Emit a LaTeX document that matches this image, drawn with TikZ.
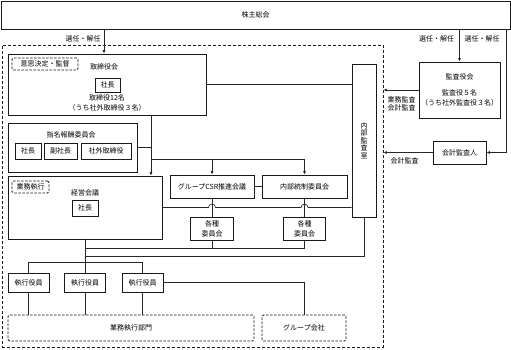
\documentclass[tikz,border=0pt]{standalone}
\usepackage{fontspec}
\setmainfont{Noto Sans CJK JP}
\usetikzlibrary{arrows.meta,positioning}

\begin{document}
\begin{tikzpicture}[
        x=1pt, y=-1pt,
        font=\fontsize{7}{10}\selectfont,
        >={Latex[length=3.5pt,width=3pt]},
        % 箱のスタイル
        box/.style={rectangle, draw=black!90, line width=0.75pt, fill=white, inner sep=0pt, align=center},
        tagbox/.style={rectangle, draw=black!90, line width=0.75pt, dash pattern=on 2.5pt off 1.5pt, rounded corners=1.5pt, fill=white, inner sep=0pt, align=center},
        areabox/.style={rectangle, draw=black!90, line width=0.8pt, dash pattern=on 3pt off 2pt, inner sep=0pt},
        conn/.style={draw=black!85, line width=0.65pt},
        txt/.style={inner sep=0pt, align=center}
    ]
        \useasboundingbox (0,0) rectangle (511,350);

        % 外枠
        \node[areabox, minimum width=381pt, minimum height=302pt] (kaisha) at (192.5,196) {};

        % 上部
        \node[box, minimum width=509pt, minimum height=28pt] (kabunushi) at (255.5,15) {株主総会};

        % 取締役会
        \node[box, minimum width=198pt, minimum height=61pt] (torishimari) at (107,84.5) {};
        \node[tagbox, minimum width=66pt, minimum height=12pt] (tag1) at (45,64) {意思決定・監督};
        \node[txt] (torititle) at (104,67) {取締役会};
        \node[box, minimum width=25pt, minimum height=14pt] (shacho1) at (107.5,85) {社長};
        \node[txt] (torimember) at (107,103) {取締役12名\\（うち社外取締役３名）};

        % 指名報酬委員会
        \node[box, minimum width=129pt, minimum height=49pt] (shimei) at (72.5,147.5) {};
        \node[txt] (shimeititle) at (71,135) {指名報酬委員会};
        \node[box, minimum width=26pt, minimum height=16pt] (shacho2) at (28,151) {社長};
        \node[box, minimum width=33pt, minimum height=16pt] (fukushacho) at (60.5,151) {副社長};
        \node[box, minimum width=50pt, minimum height=16pt] (shagai) at (106,151) {社外取締役};

        % 経営会議
        \node[box, minimum width=154pt, minimum height=63pt] (keiei) at (85,207.5) {};
        \node[tagbox, minimum width=37pt, minimum height=12pt] (tag2) at (30.5,187) {業務執行};
        \node[txt] (keieititle) at (85,193) {経営会議};
        \node[box, minimum width=26pt, minimum height=16pt] (shacho3) at (85,208) {社長};

        % 会議・委員会
        \node[box, minimum width=84pt, minimum height=23pt] (csr) at (212,186.5) {グループCSR推進会議};
        \node[box, minimum width=85pt, minimum height=23pt] (naibu) at (304.5,186.5) {内部統制委員会};
        \node[box, minimum width=43pt, minimum height=23pt] (kakushu1) at (212,228.5) {各種\\委員会};
        \node[box, minimum width=42pt, minimum height=23pt] (kakushu2) at (304.5,228.5) {各種\\委員会};

        % 内部監査室
        \node[box, minimum width=24pt, minimum height=153pt, font=\fontsize{7}{7.6}\selectfont] (kansa) at (364,140.5) {内\\部\\監\\査\\室};

        % 監査役会・会計監査人
        \node[box, minimum width=81pt, minimum height=56pt] (kansayaku) at (459.5,90) {監査役会\\[6pt]監査役５名\\（うち社外監査役３名）};
        \node[box, minimum width=53pt, minimum height=23pt] (kaikei) at (459.5,152.5) {会計監査人};

        % 執行役員
        \foreach \i/\x in {1/28.5, 2/85, 3/142.5}
            \node[box, minimum width=41pt, minimum height=19pt] (shikko\i) at (\x,282.5) {執行役員};

        \node[tagbox, minimum width=246pt, minimum height=26pt] (gyomu) at (131,328) {業務執行部門};
        \node[tagbox, minimum width=84pt, minimum height=26pt] (group) at (304,328) {グループ会社};

        % ラベル
        \node[txt] (senin1) at (83,39) {選任・解任};
        \node[txt] (senin2) at (436.5,39) {選任・解任};
        \node[txt] (senin3) at (482,39) {選任・解任};
        \node[txt, font=\fontsize{7}{7.8}\selectfont] (gyomukansa) at (401.5,103.5) {業務監査\\会計監査};
        \node[txt] (kaikeikansa) at (404.5,161) {会計監査};

        % 矢印
        \coordinate (xa) at (104,0);
        \coordinate (xb) at (151,0);
        \coordinate (xr) at (506,0);
        \draw[conn, ->] (kabunushi.south -| xa) -- (torishimari.north -| xa);
        \draw[conn, ->] (kabunushi.south -| kansayaku.north) -- (kansayaku.north);
        \draw[conn, ->] (kabunushi.south -| xr) |- (kaikei.east);
        \draw[conn, ->] (kansayaku.west) -- (kansayaku.west -| kaisha.east);
        \draw[conn, ->] (kaikei.west) -- (kaikei.west -| kaisha.east);

        \draw[conn] (torishimari.east) -- (torishimari.east -| kansa.west);
        \draw[conn, ->] (torishimari.south -| xb) -- (keiei.north -| xb);
        \draw[conn] (shimei.east) -- (shimei.east -| xb);
        \coordinate (bunki) at (151,159);
        \draw[conn, ->] (bunki) -| (csr.north);
        \draw[conn, ->] (bunki) -| (naibu.north);
        \draw[conn] (csr.east) -- (naibu.west);
        \draw[conn] (csr.south) -- (kakushu1.north);
        \draw[conn] (naibu.south) -- (kakushu2.north);

        % 交差部分の飛び越し
        \draw[conn] (keiei.east) -- ([xshift=-3.5pt]keiei.east -| csr.south)
            arc[start angle=180, end angle=0, radius=3.5pt]
            -- ([xshift=-3.5pt]keiei.east -| naibu.south)
            arc[start angle=180, end angle=0, radius=3.5pt]
            -- (keiei.east -| kansa.west);

        \coordinate (ichi) at (85,248);
        \coordinate (ni) at (85,256);
        \coordinate (san) at (85,262);
        \draw[conn] (kakushu1.south) -- (kakushu1.south |- ichi);
        \draw[conn] (kakushu2.south) |- (ichi);
        \draw[conn] (kansa.south) |- (ni);
        \draw[conn] (keiei.south) -- (san);
        \draw[conn] (san) -| (shikko1.north);
        \draw[conn] (san) -| (shikko3.north);
        \draw[conn] (san) -- (shikko2.north);
        \foreach \i in {1,2,3}
            \draw[conn] (shikko\i.south) -- (shikko\i.south |- gyomu.north);
        \draw[conn] (shikko3.east) -| (group.north);

    \end{tikzpicture}
\end{document}
